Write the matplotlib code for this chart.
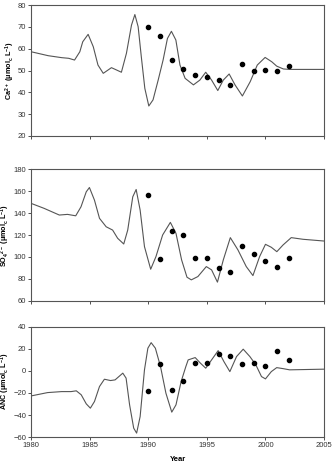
import matplotlib
matplotlib.use("Agg")
import matplotlib.pyplot as plt

plt.rcParams['font.family'] = ['Liberation Sans', 'DejaVu Sans']
plt.rcParams['mathtext.fontset'] = 'custom'
plt.rcParams['mathtext.rm'] = 'Liberation Sans:bold'
plt.rcParams['mathtext.bf'] = 'Liberation Sans:bold'
plt.rcParams['mathtext.default'] = 'bf'

# modelled (line) values
ca_years = [1980.0, 1981.45, 1982.6, 1983.2, 1983.7, 1984.15, 1984.4, 1984.86, 1985.3, 1985.7,
            1986.15, 1986.85, 1987.3, 1987.7, 1988.13, 1988.56, 1988.85, 1989.13, 1989.4, 1989.7,
            1990.04, 1990.4, 1990.84, 1991.26, 1991.63, 1991.97, 1992.35, 1992.7, 1993.14, 1993.85,
            1994.4, 1994.9, 1995.4, 1995.93, 1996.4, 1996.9, 1997.4, 1998.03, 1998.7, 1999.3,
            1999.97, 2000.54, 2000.96, 2001.53, 2002.1, 2005.0]
ca_model = [58.6, 56.8, 55.9, 55.6, 54.8, 58.6, 63.2, 66.6, 60.9, 52.5,
            48.7, 51.3, 50.2, 49.2, 57.9, 70.8, 75.7, 70.1, 56.3, 41.8,
            33.7, 36.5, 45.6, 54.8, 64.7, 68.0, 64.0, 52.5, 46.4, 43.4,
            45.6, 49.2, 45.6, 40.8, 45.6, 48.4, 43.4, 38.3, 44.9, 52.5,
            56.0, 54.0, 52.0, 50.7, 50.5, 50.5]

so4_years = [1980.0, 1981.1, 1982.4, 1983.1, 1983.8, 1984.25, 1984.7, 1984.97, 1985.4, 1985.83,
             1986.4, 1986.95, 1987.38, 1987.9, 1988.24, 1988.67, 1988.96, 1989.3, 1989.67, 1990.2,
             1990.65, 1991.22, 1991.88, 1992.36, 1992.84, 1993.3, 1993.67, 1994.23, 1994.95, 1995.4,
             1995.9, 1996.4, 1997.0, 1997.65, 1998.36, 1998.93, 1999.5, 2000.0, 2000.5, 2000.97,
             2001.5, 2002.2, 2003.2, 2005.0]
so4_model = [148.8, 144.3, 138.2, 138.8, 137.5, 145.7, 159.4, 163.3, 151.8, 135.2,
             127.5, 124.5, 117.0, 111.8, 124.5, 154.8, 161.5, 142.7, 109.4, 88.8,
             100.3, 120.0, 131.5, 121.5, 97.3, 81.5, 79.1, 82.1, 91.2, 88.2,
             77.0, 97.3, 117.6, 106.4, 91.2, 83.0, 100.3, 111.5, 108.8, 104.8,
             110.9, 117.6, 116.1, 114.5]

anc_years = [1980.0, 1981.4, 1982.6, 1983.4, 1983.85, 1984.27, 1984.7, 1985.05, 1985.4, 1985.83,
             1986.25, 1986.77, 1987.16, 1987.82, 1988.1, 1988.4, 1988.75, 1989.0, 1989.3, 1989.67,
             1989.96, 1990.24, 1990.6, 1991.04, 1991.5, 1992.0, 1992.36, 1992.8, 1993.2, 1993.4,
             1994.0, 1994.45, 1994.9, 1995.4, 1995.96, 1996.45, 1996.96, 1997.53, 1998.1, 1998.67,
             1999.18, 1999.66, 2000.0, 2000.5, 2000.96, 2001.5, 2002.06, 2005.0]
anc_model = [-22.7, -19.7, -18.8, -18.8, -18.1, -21.7, -29.9, -33.8, -27.8, -14.2,
             -7.6, -8.8, -8.2, -2.1, -6.6, -30.8, -51.9, -56.4, -41.4, 0.9,
             20.5, 25.5, 20.5, 3.8, -20.2, -37.4, -30.8, -9.7, 3.8, 9.9,
             12.0, 6.9, 2.4, 9.9, 18.3, 8.4, -0.7, 12.9, 19.6, 12.9,
             5.4, -5.2, -7.3, -0.7, 2.9, 2.0, 0.9, 1.5]

# observed (dots)
obs_years = [1990, 1991, 1992, 1993, 1994, 1995, 1996, 1997, 1998, 1999, 2000, 2001, 2002]
ca_obs = [69.8, 65.9, 54.8, 50.5, 47.9, 47.2, 45.6, 43.4, 52.8, 49.9, 50.3, 49.9, 52.0]
so4_obs = [156.4, 97.9, 123.6, 120.3, 99.4, 99.4, 89.7, 86.1, 109.7, 103.0, 96.6, 91.2, 99.4]
anc_obs = [-17.9, 6.6, -17.2, -9.1, 6.9, 6.9, 15.0, 13.5, 6.6, 7.3, 4.7, 18.0, 10.2]

fig = plt.figure(figsize=(3.32, 4.70), dpi=100)

panels = [
    ([0.094, 0.711, 0.882, 0.278], ca_years, ca_model, ca_obs, (20, 80), range(20, 81, 10),
     'Ca$^{2+}$ (μmol$_c$ L$^{-1}$)'),
    ([0.094, 0.360, 0.882, 0.280], so4_years, so4_model, so4_obs, (60, 180), range(60, 181, 20),
     'SO$_4$$^{2-}$ (μmol$_c$ L$^{-1}$)'),
    ([0.094, 0.070, 0.882, 0.235], anc_years, anc_model, anc_obs, (-60, 40), range(-60, 41, 20),
     'ANC (μmol$_c$ L$^{-1}$)'),
]

for i, (pos, yrs, model, obs, ylim, yticks, ylabel) in enumerate(panels):
    ax = fig.add_axes(pos)
    ax.plot(yrs, model, color='#555555', linewidth=0.8)
    ax.plot(obs_years, obs, 'o', color='black', markersize=3)
    ax.set_xlim(1980, 2005)
    ax.set_ylim(*ylim)
    ax.set_xticks(range(1980, 2006, 5))
    ax.set_yticks(list(yticks))
    ax.tick_params(labelsize=5.5, length=2, width=0.6, colors='#333333', pad=1.5)
    for s in ax.spines.values():
        s.set_color('#555555')
        s.set_linewidth(0.8)
    ax.set_ylabel(ylabel, fontsize=5.2, fontweight='bold', labelpad=1)
    if i < 2:
        ax.set_xticklabels([])
    else:
        ax.set_xlabel('Year', fontsize=5.5, fontweight='bold', labelpad=5)

plt.savefig('out.png', dpi=100)
